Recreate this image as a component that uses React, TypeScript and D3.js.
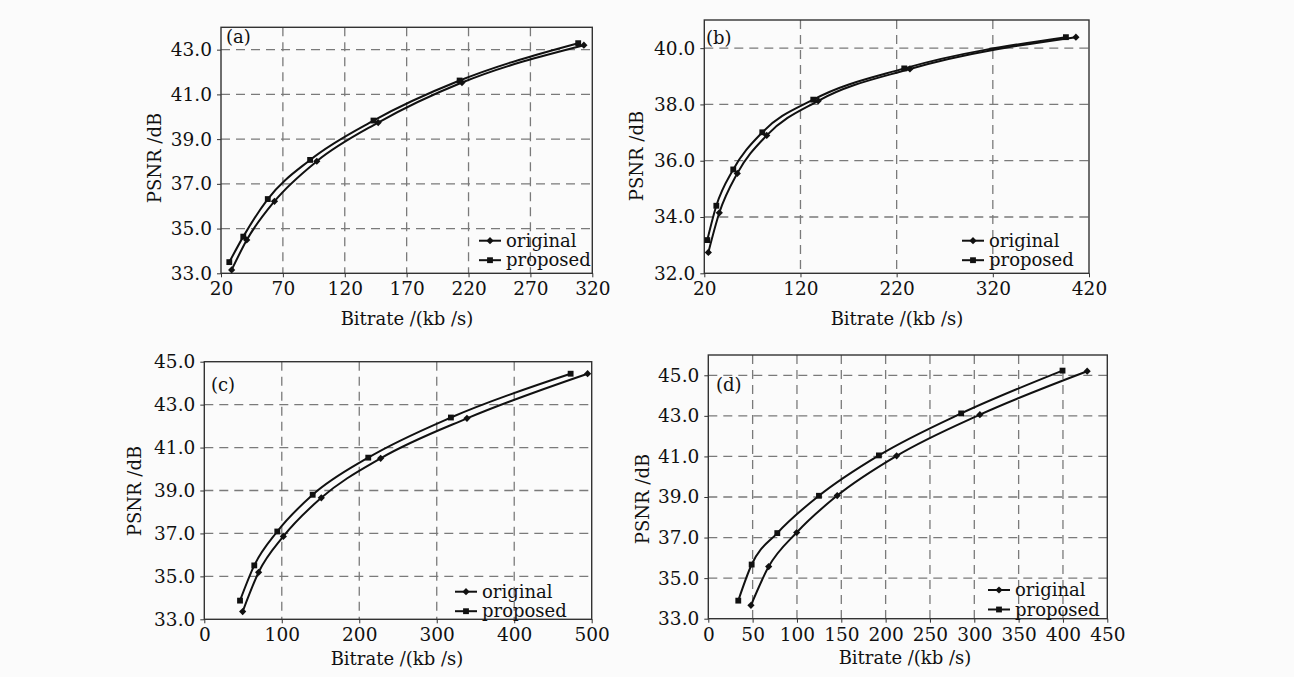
import * as d3 from "d3";
import React, { useEffect, useRef } from "react";

// panel (a)
const aOrigRate = [28.6, 40.8, 63.2, 97.4, 147, 214.7, 313.2];
const aOrigPsnr = [33.15, 34.49, 36.22, 38.01, 39.74, 41.53, 43.2];
const aPropRate = [26.7, 38, 57.8, 92, 143.2, 212.8, 308.6];
const aPropPsnr = [33.5, 34.64, 36.32, 38.07, 39.83, 41.62, 43.29];
const aXTicks = [20, 70, 120, 170, 220, 270, 320];
const aYTicks = [33, 35, 37, 39, 41, 43];

// panel (b)
const bOrigRate = [24.2, 35.6, 54.3, 84.9, 138.5, 233.8, 406.4];
const bOrigPsnr = [32.74, 34.15, 35.55, 36.9, 38.13, 39.26, 40.39];
const bPropRate = [23.1, 32.5, 50.1, 80.3, 133.3, 227.9, 396];
const bPropPsnr = [33.18, 34.4, 35.69, 37.01, 38.17, 39.28, 40.39];
const bXTicks = [20, 120, 220, 320, 420];
const bYTicks = [32, 34, 36, 38, 40];

// panel (c)
const cOrigRate = [49.5, 70.1, 102, 151, 227.6, 339, 494.7];
const cOrigPsnr = [33.36, 35.19, 36.86, 38.66, 40.5, 42.36, 44.44];
const cPropRate = [46.1, 64.5, 94.2, 139.9, 211.6, 318.3, 472.8];
const cPropPsnr = [33.87, 35.51, 37.09, 38.8, 40.53, 42.4, 44.44];
const cXTicks = [0, 100, 200, 300, 400, 500];
const cYTicks = [33, 35, 37, 39, 41, 43, 45];

// panel (d)
const dOrigRate = [48.1, 68.1, 99.7, 145.4, 212.4, 306.3, 427.3];
const dOrigPsnr = [33.66, 35.57, 37.25, 39.07, 41.03, 43.06, 45.2];
const dPropRate = [33.8, 48.9, 77.8, 124.8, 192.4, 285.2, 399.5];
const dPropPsnr = [33.89, 35.67, 37.22, 39.06, 41.05, 43.12, 45.23];
const dXTicks = [0, 50, 100, 150, 200, 250, 300, 350, 400, 450];
const dYTicks = [33, 35, 37, 39, 41, 43, 45];

const seriesNames = ["original", "proposed"];
const xTitle = "Bitrate /(kb /s)";
const yTitle = "PSNR /dB";

const zip = (xs: number[], ys: number[]) => xs.map((x, i) => [x, ys[i]] as [number, number]);

const panels = [
  {
    tag: "(a)", orig: zip(aOrigRate, aOrigPsnr), prop: zip(aPropRate, aPropPsnr),
    xTicks: aXTicks, yTicks: aYTicks, xDom: [20, 320], yDom: [33, 44],
    box: { l: 221, t: 27.3, r: 592.3, b: 273.3 },
    tagPos: [226, 43], legend: [479, 240.7], yTitlePos: [155, 158], xTitlePos: [407, 325],
  },
  {
    tag: "(b)", orig: zip(bOrigRate, bOrigPsnr), prop: zip(bPropRate, bPropPsnr),
    xTicks: bXTicks, yTicks: bYTicks, xDom: [20, 420], yDom: [32, 41],
    box: { l: 704.3, t: 20, r: 1089, b: 273.3 },
    tagPos: [706, 44], legend: [962, 240.7], yTitlePos: [637, 156], xTitlePos: [897, 325],
  },
  {
    tag: "(c)", orig: zip(cOrigRate, cOrigPsnr), prop: zip(cPropRate, cPropPsnr),
    xTicks: cXTicks, yTicks: cYTicks, xDom: [0, 500], yDom: [33, 45],
    box: { l: 204.3, t: 361.7, r: 591.7, b: 619.3 },
    tagPos: [211, 391], legend: [455, 591.7], yTitlePos: [135, 491], xTitlePos: [397, 665],
  },
  {
    tag: "(d)", orig: zip(dOrigRate, dOrigPsnr), prop: zip(dPropRate, dPropPsnr),
    xTicks: dXTicks, yTicks: dYTicks, xDom: [0, 450], yDom: [33, 46],
    box: { l: 708.3, t: 355, r: 1107.3, b: 618.7 },
    tagPos: [716, 391], legend: [988, 590], yTitlePos: [643, 499], xTitlePos: [905, 664],
  },
];

const FONT = "'DejaVu Serif', serif";

export default function App() {
  const ref = useRef<SVGSVGElement>(null);

  useEffect(() => {
    const svg = d3.select(ref.current);
    svg.selectAll("*").remove();

    svg.append("rect").attr("width", 1294).attr("height", 677).attr("fill", "#fbfbfb");

    // rotated square reads closer to the original's diamond than d3's tall one
    const diamond = d3.symbol().type(d3.symbolSquare).size(26);
    const square = d3.symbol().type(d3.symbolSquare).size(34);

    panels.forEach((p) => {
      const { l, t, r, b } = p.box;
      const x = d3.scaleLinear().domain(p.xDom).range([l, r]);
      const y = d3.scaleLinear().domain(p.yDom).range([b, t]);
      const g = svg.append("g");

      // grid
      g.append("g")
        .selectAll("line")
        .data(p.xTicks.filter((v) => v !== p.xDom[0] && v !== p.xDom[1]))
        .enter()
        .append("line")
        .attr("x1", (d) => x(d)).attr("x2", (d) => x(d))
        .attr("y1", t).attr("y2", b)
        .attr("stroke", "#7a7a7a").attr("stroke-width", 1.3)
        .attr("stroke-dasharray", "9,6");
      g.append("g")
        .selectAll("line")
        .data(p.yTicks.filter((v) => v !== p.yDom[0] && v !== p.yDom[1]))
        .enter()
        .append("line")
        .attr("y1", (d) => y(d)).attr("y2", (d) => y(d))
        .attr("x1", l).attr("x2", r)
        .attr("stroke", "#7a7a7a").attr("stroke-width", 1.3)
        .attr("stroke-dasharray", "9,6");

      // axes
      const xAxis = g.append("g")
        .attr("transform", `translate(0,${b})`)
        .call(d3.axisBottom(x).tickValues(p.xTicks).tickSize(4).tickSizeOuter(0).tickPadding(5).tickFormat(d3.format("d")));
      const yAxis = g.append("g")
        .attr("transform", `translate(${l},0)`)
        .call(d3.axisLeft(y).tickValues(p.yTicks).tickSize(4).tickSizeOuter(0).tickPadding(5).tickFormat(d3.format(".1f")));
      [xAxis, yAxis].forEach((a) => {
        a.attr("font-family", null).attr("font-size", null);
        a.select(".domain").remove();
        a.selectAll("line").attr("stroke", "#333");
        a.selectAll("text").attr("fill", "#111").style("font-family", FONT).style("font-size", "18.5px");
      });

      g.append("rect")
        .attr("x", l).attr("y", t).attr("width", r - l).attr("height", b - t)
        .attr("fill", "none").attr("stroke", "#333").attr("stroke-width", 1.4);

      // curves
      const line = d3.line<[number, number]>()
        .x((d) => x(d[0])).y((d) => y(d[1]))
        .curve(d3.curveMonotoneX);
      [p.orig, p.prop].forEach((s, i) => {
        g.append("path").attr("d", line(s)).attr("fill", "none")
          .attr("stroke", "#111").attr("stroke-width", 2);
        g.selectAll(null)
          .data(s)
          .enter()
          .append("path")
          .attr("d", i === 0 ? diamond() : square())
          .attr("transform", (d) => `translate(${x(d[0])},${y(d[1])})` + (i === 0 ? " rotate(45)" : ""))
          .attr("fill", "#111");
      });

      // legend
      seriesNames.forEach((name, i) => {
        const ly = p.legend[1] + i * 19.5;
        const lx = p.legend[0];
        g.append("line").attr("x1", lx).attr("x2", lx + 22).attr("y1", ly).attr("y2", ly)
          .attr("stroke", "#111").attr("stroke-width", 2);
        g.append("path").attr("d", i === 0 ? diamond() : square())
          .attr("transform", `translate(${lx + 11},${ly})` + (i === 0 ? " rotate(45)" : ""))
          .attr("fill", "#111");
        g.append("text").attr("x", lx + 27).attr("y", ly + 6)
          .text(name).style("font-family", FONT).style("font-size", "18px").attr("fill", "#111");
      });

      // labels
      g.append("text").attr("x", p.tagPos[0]).attr("y", p.tagPos[1]).text(p.tag)
        .style("font-family", FONT).style("font-size", "18px").attr("fill", "#111");
      g.append("text").attr("x", p.xTitlePos[0]).attr("y", p.xTitlePos[1]).text(xTitle)
        .attr("text-anchor", "middle").style("font-family", FONT).style("font-size", "18px").attr("fill", "#111");
      g.append("text")
        .attr("transform", `translate(${p.yTitlePos[0] + 6},${p.yTitlePos[1]}) rotate(-90)`)
        .text(yTitle).attr("text-anchor", "middle")
        .style("font-family", FONT).style("font-size", "18px").attr("fill", "#111");
    });
  }, []);

  return (
    <svg ref={ref} width={1294} height={677} style={{ position: "absolute", left: 0, top: 0 }} />
  );
}
